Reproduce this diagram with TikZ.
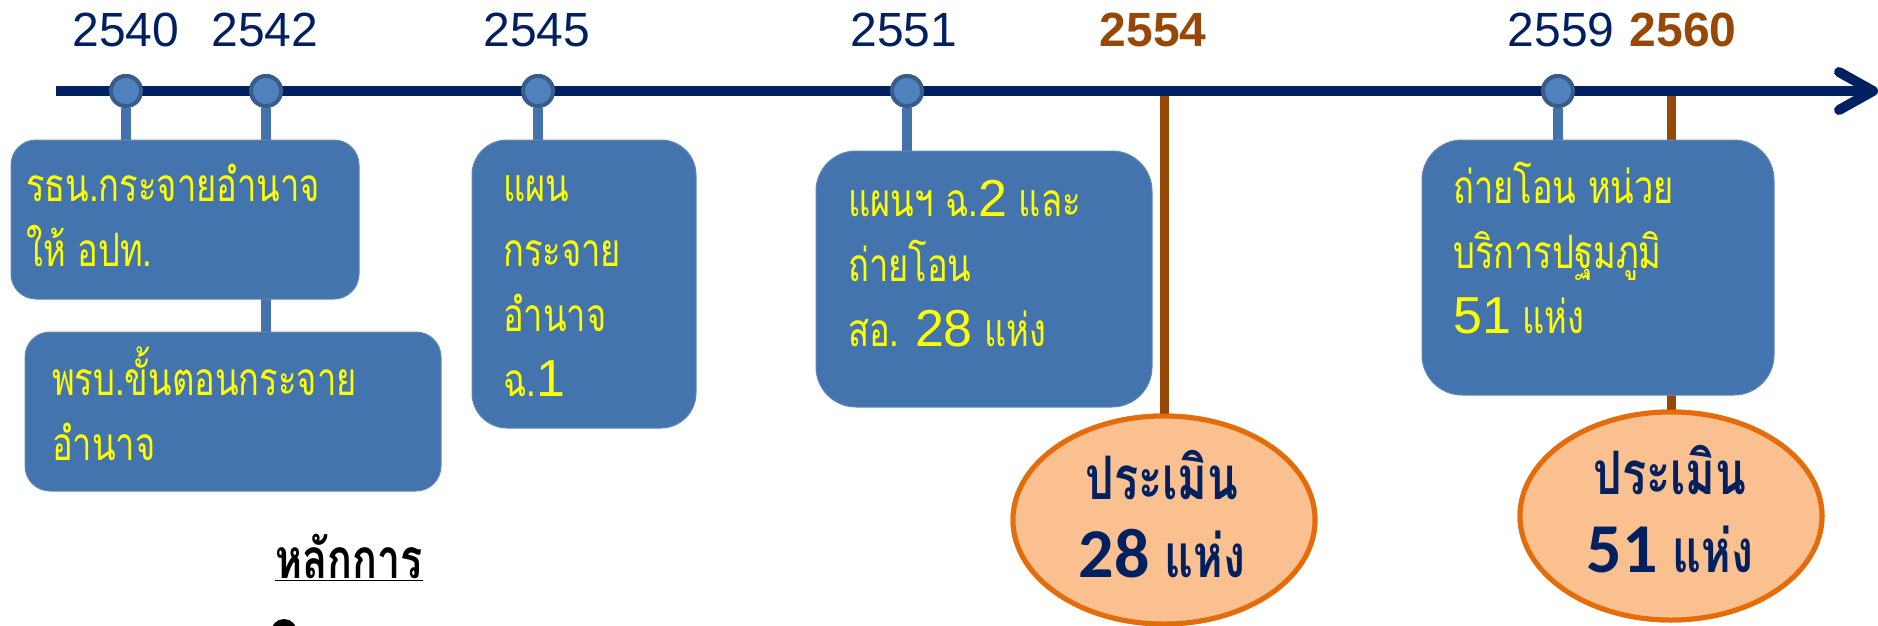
\documentclass[tikz,border=0pt]{standalone}
\usepackage{fontspec}
\setmainfont{Liberation Sans}
\newfontfamily\thai[Script=Thai,FakeStretch=0.75]{Loma}
\newfontfamily\thaib[Script=Thai,FakeStretch=0.75]{Loma}
\newfontfamily\lib{Liberation Sans}
\newfontfamily\carl{Carlito}
\usetikzlibrary{shapes.geometric,calc}
\definecolor{navy}{RGB}{0,32,96}
\definecolor{brn}{RGB}{151,72,6}
\definecolor{boxblue}{RGB}{68,116,173}
\definecolor{stemblue}{RGB}{68,114,172}
\definecolor{dotfill}{RGB}{79,129,189}
\definecolor{dotdraw}{RGB}{56,93,138}
\definecolor{efill}{RGB}{250,192,144}
\definecolor{edraw}{RGB}{228,108,10}
\definecolor{ylw}{RGB}{255,255,0}
\newcommand\dg[1]{{\lib\fontsize{52}{65}\selectfont #1}}
\tikzset{
  yr/.style={text=navy,font=\lib\fontsize{48}{48}\selectfont,inner sep=0},
  yrb/.style={text=brn,font=\lib\bfseries\fontsize{48}{48}\selectfont,inner sep=0},
  dot/.style={circle,fill=dotfill,draw=dotdraw,line width=4pt,minimum size=30pt,inner sep=0},
  stem/.style={draw=stemblue,line width=10pt},
  bstem/.style={draw=brn,line width=9pt},
  box/.style={rectangle,rounded corners=#1,fill=boxblue,draw=boxblue!85!white,line width=1pt,inner sep=0},
  btxt/.style={text=ylw,align=left,inner sep=0,font=\thai\fontsize{46}{65}\selectfont},
  ell/.style={ellipse,fill=efill,draw=edraw,line width=5pt,inner sep=0,
    minimum width=302pt,minimum height=208pt},
  etxt/.style={text=navy,align=center,inner sep=0,font=\thaib\bfseries\fontsize{60}{78}\selectfont},
  axisline/.style={draw=navy,line width=10pt},
}
\begin{document}
\begin{tikzpicture}[x=1pt,y=-1pt]
\useasboundingbox (0,0) rectangle (1878,626);
\clip (0,0) rectangle (1878,626);
% axis coordinates
\coordinate (ax0) at (56,91);
\coordinate (ax1) at (1873,91);
\coordinate (c54) at (1164,96);
\coordinate (c60) at (1671,96);
% ellipses
\node[ell] (e1) at (1164,520) {};
\node[ell] (e2) at (1671,516) {};
% brown lines (behind)
\draw[bstem] (c54) -- (e1.north);
\draw[bstem] (c60) -- (e2.north);
% redraw ellipses on top of lines
\node[ell] (e1b) at (e1) {};
\node[ell] (e2b) at (e2) {};
\node[etxt] (et1) at (1162,514) {ประเมิน\\{\carl\bfseries\fontsize{70}{78}\selectfont 28} แห่ง};
\node[etxt] (et2) at (1670,509) {ประเมิน\\{\carl\bfseries\fontsize{70}{78}\selectfont 51} แห่ง};
% dots
\node[dot] (d40) at (126,91) {};
\node[dot] (d42) at (266,91) {};
\node[dot] (d45) at (538,91) {};
\node[dot] (d51) at (907,91) {};
\node[dot] (d59) at (1558,91) {};
% stems
\draw[stem] (d40) -- (126,140);
\draw[stem] (d42) -- (266,332);
\draw[stem] (d45) -- (538,140);
\draw[stem] (d51) -- (907,151);
\draw[stem] (d59) -- (1558,140);
% boxes
\node[box=25pt,minimum width=348pt,minimum height=159pt] (b1) at (185,219.5) {};
\node[box=25pt,minimum width=416pt,minimum height=159pt] (b2) at (233,411.5) {};
\node[box=35pt,minimum width=224pt,minimum height=288pt] (b3) at (584,284) {};
\node[box=40pt,minimum width=336pt,minimum height=256pt] (b4) at (984,279) {};
\node[box=40pt,minimum width=352pt,minimum height=255pt] (b5) at (1598,267.5) {};
% axis
\draw[axisline] (ax0) -- (ax1);
\draw[axisline,line cap=round,line join=round] ($(ax1)+(-34,-19)$) -- (ax1) -- ($(ax1)+(-34,19)$);
\node[dot] (d40t) at (d40) {};
\node[dot] (d42t) at (d42) {};
\node[dot] (d45t) at (d45) {};
\node[dot] (d51t) at (d51) {};
\node[dot] (d59t) at (d59) {};
% years
\node[yr] (y40) at (126,30) {2540};
\node[yr] (y42) at (265,30) {2542};
\node[yr] (y45) at (537,30) {2545};
\node[yr] (y51) at (904,30) {2551};
\node[yrb] (y54) at (1153,30) {2554};
\node[yr] (y59) at (1561,30) {2559};
\node[yrb] (y60) at (1683,30) {2560};
% box texts
\node[btxt,anchor=west] (t1) at (26,215) {รธน.กระจายอำนาจ\\ให้ อปท.};
\node[btxt,anchor=west] (t2) at (52,404) {พรบ.ขั้นตอนกระจาย\\อำนาจ};
\node[btxt,anchor=west] (t3) at (503,286) {แผน\\กระจาย\\อำนาจ\\ฉ.\dg{1}};
\node[btxt,anchor=west] (t4) at (848,264) {แผนฯ ฉ.\dg{2} และ\\ถ่ายโอน\\สอ. \dg{28} แห่ง};
\node[btxt,anchor=west] (t5) at (1453,248) {ถ่ายโอน หน่วย\\บริการปฐมภูมิ\\\dg{51} แห่ง};
% principle heading
\node[anchor=west,inner sep=0,font=\thaib\bfseries\fontsize{55}{55}\selectfont] (h1) at (275,557) {\underline{หลักการ}};
\node[circle,fill=black,minimum size=26pt,inner sep=0] (bul) at (284,632) {};
\end{tikzpicture}
\end{document}
